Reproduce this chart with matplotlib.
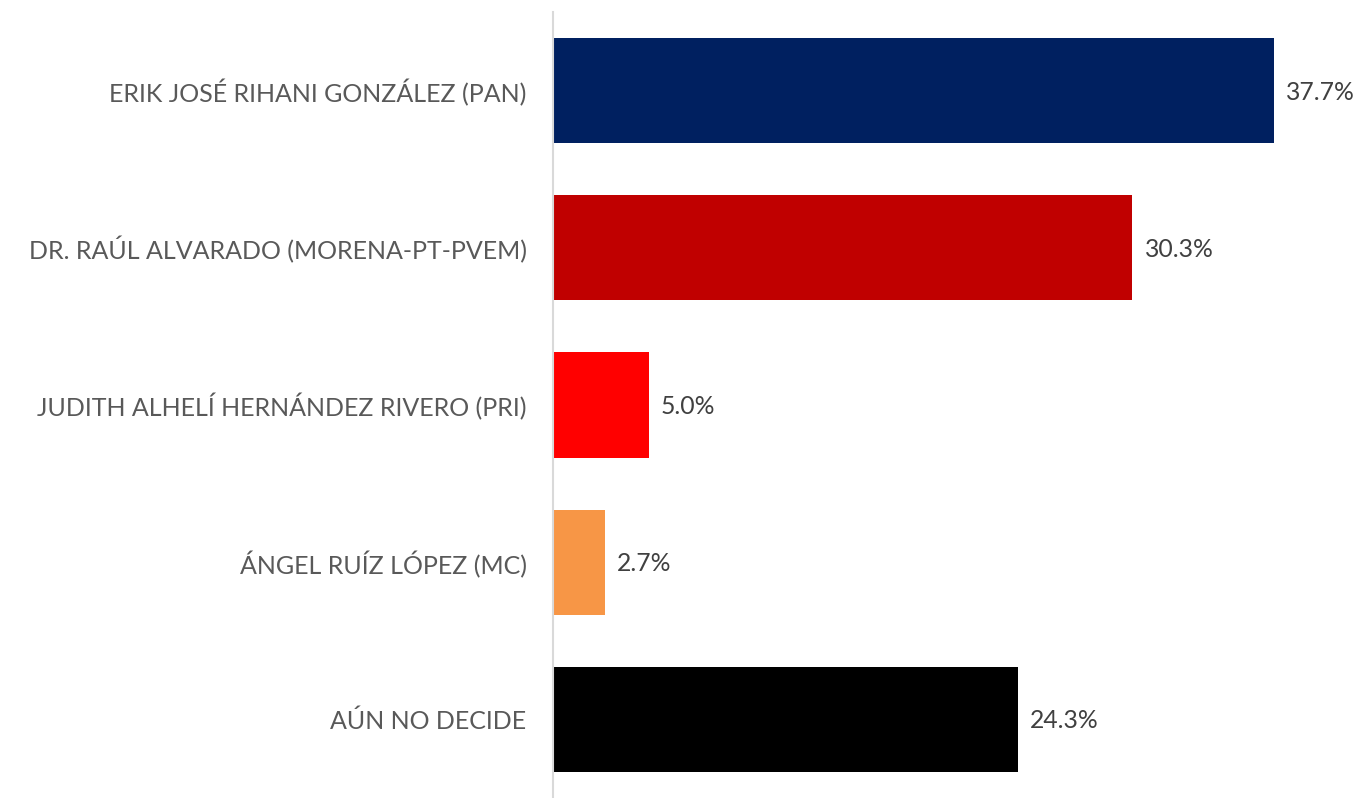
import matplotlib.pyplot as plt

candidatos = [
    "ERIK JOSÉ RIHANI GONZÁLEZ (PAN)",
    "DR. RAÚL ALVARADO (MORENA-PT-PVEM)",
    "JUDITH ALHELÍ HERNÁNDEZ RIVERO (PRI)",
    "ÁNGEL RUÍZ LÓPEZ (MC)",
    "AÚN NO DECIDE",
]
porcentajes = [37.7, 30.3, 5.0, 2.7, 24.3]
colores = ["#002060", "#C00000", "#FF0000", "#F79646", "#000000"]

plt.rcParams['font.family'] = ['Lato', 'DejaVu Sans']

fig = plt.figure(figsize=(13.58, 7.98), dpi=100)
ax = fig.add_axes([553 / 1358, 0.0, 1 - 553 / 1358, 1 - 12 / 798])

y = range(len(candidatos))
ax.barh(y, porcentajes, height=0.67, color=colores)
ax.set_ylim(len(candidatos) - 0.5, -0.5)
ax.set_xlim(0, 42.1)

# etiquetas de valor al final de cada barra
for i, v in enumerate(porcentajes):
    ax.text(v + 0.65, i + 0.01, f"{v:.1f}%", va='center', ha='left',
            fontsize=17.8, color='#404040')

ax.set_yticks(list(y))
ax.set_yticklabels(candidatos, fontsize=18, color='#595959')
ax.tick_params(axis='y', length=0, pad=19)
ax.set_xticks([])

for s in ['top', 'right', 'bottom']:
    ax.spines[s].set_visible(False)
ax.spines['left'].set_color('#D9D9D9')
ax.spines['left'].set_linewidth(1.5)

fig.savefig('out.png', dpi=100)
